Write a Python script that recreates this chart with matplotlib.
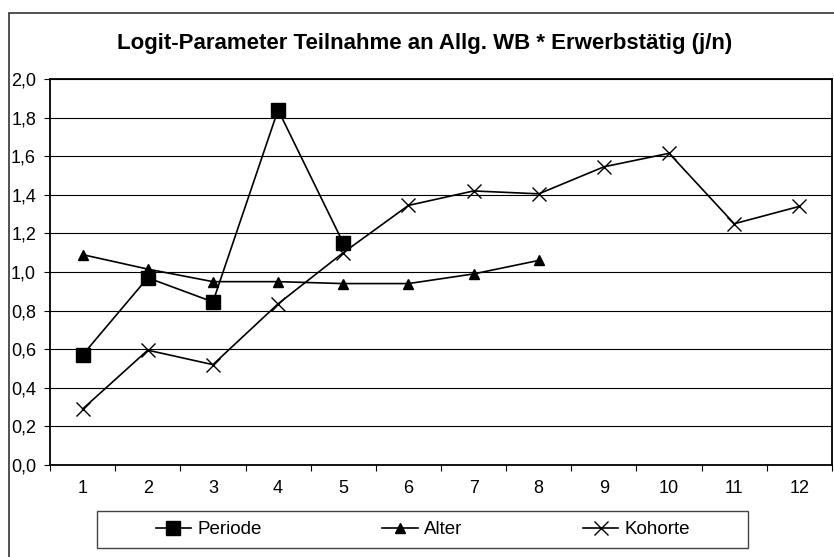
import numpy as np
import matplotlib.pyplot as plt
from matplotlib.patches import Rectangle

plt.rcParams['font.family'] = ['Liberation Sans', 'DejaVu Sans']

# data
periods = list(range(1, 13))
periode = [0.57, 0.97, 0.845, 1.84, 1.15]
alter = [1.09, 1.015, 0.95, 0.95, 0.94, 0.94, 0.99, 1.06]
kohorte = [0.29, 0.595, 0.52, 0.835, 1.10, 1.345, 1.42, 1.405, 1.545, 1.615, 1.25, 1.34]
yticks = [0.0, 0.2, 0.4, 0.6, 0.8, 1.0, 1.2, 1.4, 1.6, 1.8, 2.0]
ylabels = ['0,0', '0,2', '0,4', '0,6', '0,8', '1,0', '1,2', '1,4', '1,6', '1,8', '2,0']
title = 'Logit-Parameter Teilnahme an Allg. WB * Erwerbstätig (j/n)'

W, H = 834, 557
fig = plt.figure(figsize=(W / 100, H / 100), dpi=100)

# outer chart frame (only left and top edge visible)
fig.patches.append(Rectangle((9 / W, -0.1), 1.2, 1 - 13 / H + 0.1,
                             transform=fig.transFigure, fill=False,
                             edgecolor='#333333', lw=1.2))

ax = fig.add_axes([50 / W, 1 - 465 / H, 782 / W, 386 / H])

ax.plot(periods[:len(periode)], periode, color='black', lw=1.2,
        marker='s', ms=9.5, label='Periode')
ax.plot(periods[:len(alter)], alter, color='black', lw=1.2,
        marker='^', ms=7.5, label='Alter')
ax.plot(periods, kohorte, color='black', lw=1.2,
        marker='x', ms=10, mew=1.0, label='Kohorte')

ax.set_xlim(0.5, 12.5)
ax.set_ylim(0, 2.0)
ax.set_yticks(yticks)
ax.set_yticklabels(ylabels)
ax.yaxis.grid(True, color='black', lw=0.8)
ax.set_axisbelow(True)

ax.set_xticks(np.arange(0.5, 13, 1))
ax.set_xticklabels([])
ax.set_xticks(periods, minor=True)
ax.set_xticklabels([str(p) for p in periods], minor=True)
ax.tick_params(axis='x', which='minor', length=0, pad=11, labelsize=13)
ax.tick_params(axis='x', which='major', direction='out', length=4, width=0.8)
ax.tick_params(axis='y', direction='out', length=4, width=0.8, pad=6, labelsize=13)

for s in ax.spines.values():
    s.set_linewidth(1.3)
    s.set_color('black')

fig.text(425 / W, 1 - 43 / H, title, ha='center', va='center',
         fontsize=16, fontweight='bold')

# legend box
fig.patches.append(Rectangle((97 / W, 1 - 548 / H), 651 / W, 37 / H,
                             transform=fig.transFigure, fill=False,
                             edgecolor='#444444', lw=1.0))
fig.legend(loc='center', bbox_to_anchor=(423 / W, 1 - 529.5 / H), ncol=3,
           frameon=False, fontsize=13.5, handlelength=1.9, handletextpad=0.35,
           columnspacing=6.4)

fig.savefig('out.png', dpi=100)
